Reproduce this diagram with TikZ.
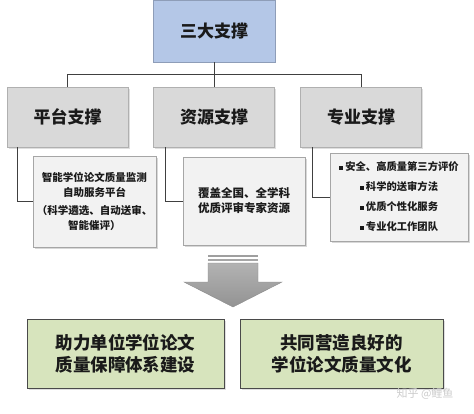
\documentclass[tikz,border=0pt]{standalone}
\usepackage{fontspec}
\setmainfont{Noto Sans CJK SC}
\usetikzlibrary{calc,shadows}
\definecolor{topblue}{HTML}{B4C7E7}
\definecolor{topborder}{HTML}{8E9DB8}
\definecolor{midgray}{HTML}{D9D9D9}
\definecolor{midborder}{HTML}{B0B0B0}
\definecolor{detfill}{HTML}{F2F2F2}
\definecolor{detborder}{HTML}{A6A6A6}
\definecolor{greenfill}{HTML}{D7E4BD}
\definecolor{greenborder}{HTML}{4A4A4A}
\definecolor{linecol}{HTML}{404040}
\definecolor{txt}{HTML}{1A1A1A}
\tikzset{
  base/.style={rectangle, inner sep=0pt, align=center, text=txt, font=\bfseries},
  topbox/.style={base, fill=topblue, draw=topborder, line width=0.8pt,
    font=\fontsize{17}{20}\selectfont\bfseries},
  midbox/.style={base, fill=midgray, draw=midborder, line width=0.8pt,
    minimum width=121pt, minimum height=60pt,
    font=\fontsize{17}{20}\selectfont\bfseries,
    drop shadow={shadow xshift=1.5pt, shadow yshift=-1.5pt, opacity=0.25}},
  detbox/.style={base, fill=detfill, draw=detborder, line width=0.8pt,
    drop shadow={shadow xshift=1.5pt, shadow yshift=-1.5pt, opacity=0.3}},
  greenbox/.style={base, fill=greenfill, draw=greenborder, line width=1pt,
    font=\fontsize{17.5}{22}\selectfont\bfseries,
    drop shadow={shadow xshift=1.5pt, shadow yshift=-1.5pt, opacity=0.25}},
  conn/.style={draw=linecol, line width=1pt},
}
\newcommand{\sqb}{\raisebox{1pt}{\rule{4pt}{4pt}}\hspace{2pt}}
\begin{document}
\begin{tikzpicture}[x=1pt,y=-1pt]
\useasboundingbox (0,0) rectangle (474,413);
\fill[white] (0,0) rectangle (474,413);

% top box
\node[topbox, minimum width=122pt, minimum height=62pt] (top) at (214,31) {三大支撑};

% second row
\node[midbox] (b1) at (67.5,117) {平台支撑};
\node[midbox] (b2) at (214,117) {资源支撑};
\node[midbox] (b3) at (361,117) {专业支撑};

% tree connectors
\coordinate (hl) at (67.5,74);
\coordinate (hm) at (214,74);
\coordinate (hr) at (361,74);
\draw[conn] (top.south) -- (hm);
\draw[conn] (b1.north) -- (hl) -- (hr) -- (b3.north);
\draw[conn] (hm) -- (b2.north);

% detail boxes
\node[detbox, minimum width=123pt, minimum height=91pt,
  font=\fontsize{10.5}{15}\selectfont\bfseries] (d1) at (94.5,201.5)
  {智能学位论文质量监测\\自助服务平台\\[3pt]（科学遴选、自动送审、\\智能催评）};
\node[detbox, minimum width=122pt, minimum height=88pt,
  font=\fontsize{11.5}{15}\selectfont\bfseries] (d2) at (244,201)
  {覆盖全国、全学科\\优质评审专家资源};
\node[detbox, minimum width=138pt, minimum height=88pt,
  font=\fontsize{10.3}{20}\selectfont\bfseries] (d3) at (399,197)
  {\sqb 安全、高质量第三方评价\\\sqb 科学的送审方法\\\sqb 优质个性化服务\\\sqb 专业化工作团队};

\draw[conn] ($(b1.south west)+(11,0)$) |- (d1.west);
\draw[conn] ($(b2.south west)+(12,0)$) |- (d2.west);
\draw[conn] ($(b3.south west)+(12,0)$) |- (d3.west);

% big arrow
\fill[gray!75] (208,254.5) rectangle (258,256.5);
\fill[gray!70] (208,258.5) rectangle (258,261);
\shade[top color=gray!60, bottom color=gray!85, draw=gray!90, line width=0.4pt]
  (208,263) -- (258,263) -- (258,282) -- (282,282) -- (233,307)
  -- (184,282) -- (208,282) -- cycle;

% bottom boxes
\node[greenbox, minimum width=197pt, minimum height=69pt] (g1) at (125.5,353.5)
  {助力单位学位论文\\质量保障体系建设};
\node[greenbox, minimum width=203pt, minimum height=69pt] (g2) at (341.5,353.5)
  {共同营造良好的\\学位论文质量文化};

% watermark
\node[text=gray!40, font=\fontsize{11}{13}\selectfont, inner sep=0pt] (wm) at (425,394) {知乎 @鲤鱼};
\end{tikzpicture}
\end{document}
